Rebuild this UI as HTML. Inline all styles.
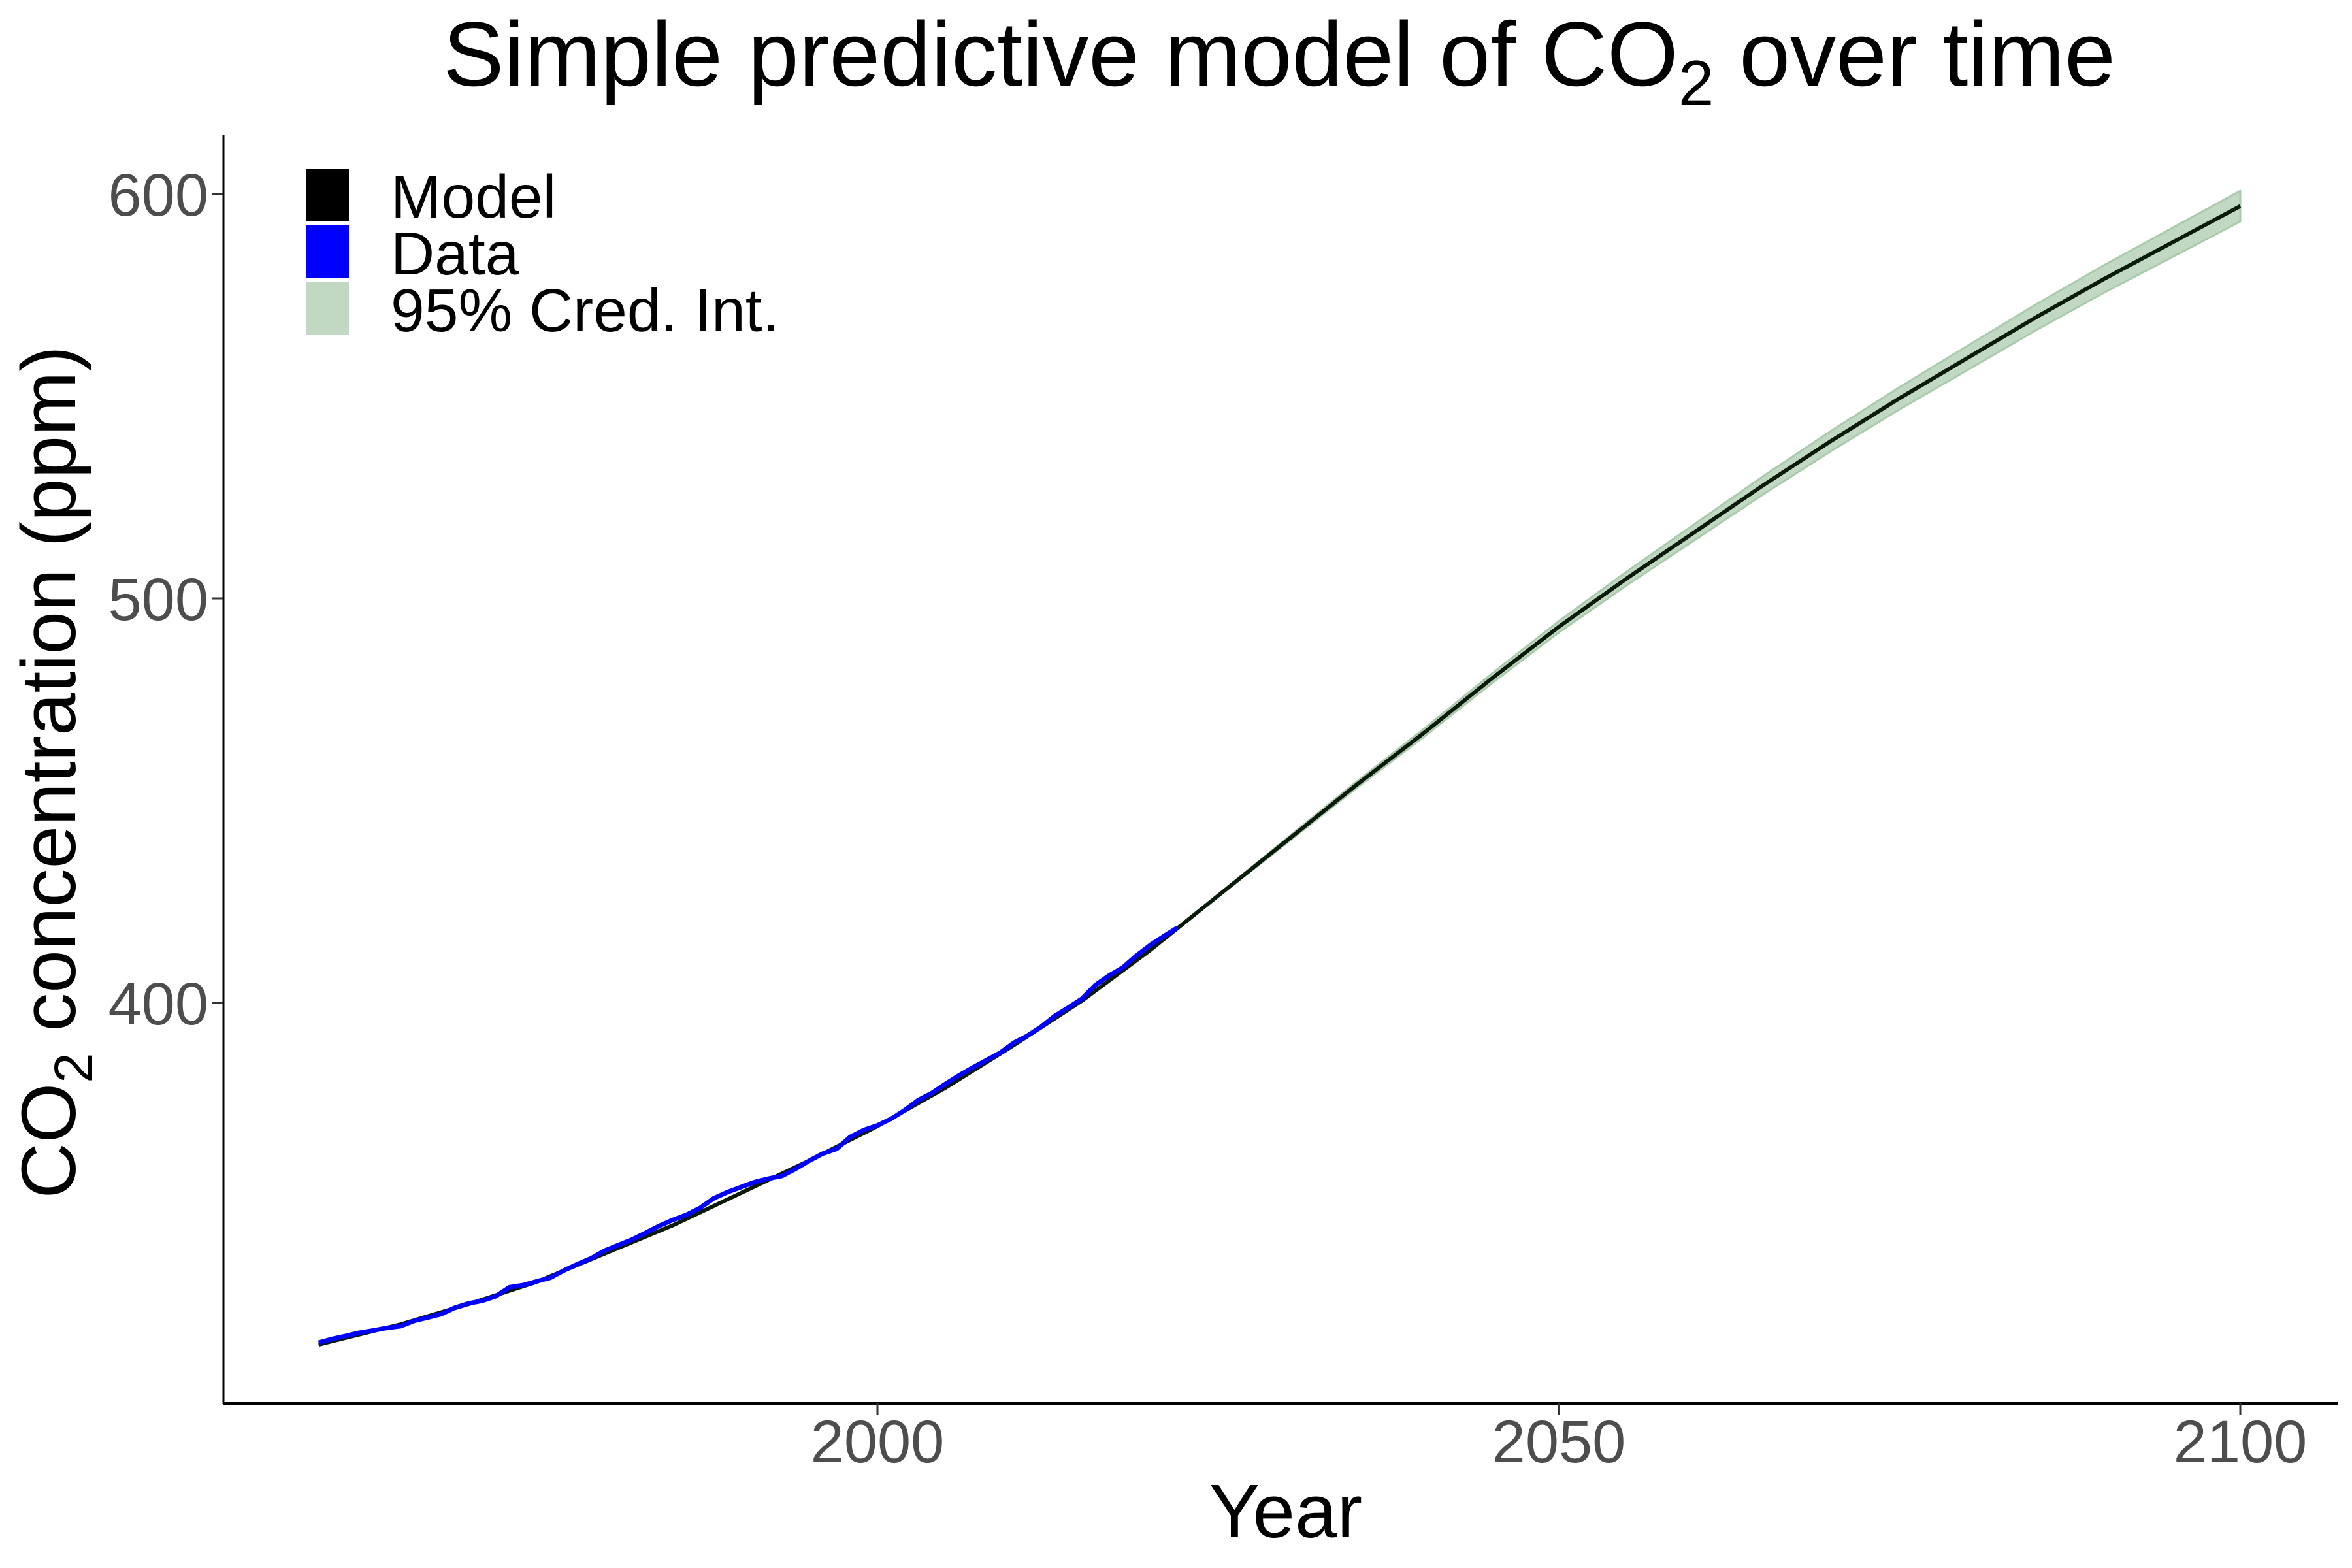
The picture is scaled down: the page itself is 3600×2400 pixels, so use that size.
<!DOCTYPE html>
<html><head><meta charset="utf-8"><style>
html,body{margin:0;padding:0;background:#fff;}
svg{display:block;font-family:"Liberation Sans",Arial,sans-serif;}
</style></head><body>
<svg id="chart" width="3600" height="2400" viewBox="0 0 3600 2400" xmlns="http://www.w3.org/2000/svg">
<text x="1958" y="131" font-size="140" text-anchor="middle" fill="#000">Simple predictive model of CO<tspan font-size="98" dy="30">2</tspan><tspan dy="-30"> over time</tspan></text>
<text transform="translate(115,1182) rotate(-90)" font-size="118" text-anchor="middle" fill="#000">CO<tspan font-size="83" dy="26">2</tspan><tspan dy="-26"> concentration (ppm)</tspan></text>
<text x="1968" y="2353" font-size="116" text-anchor="middle" fill="#000">Year</text>
<g id="plot"></g>
<line x1="342" y1="206" x2="342" y2="2149" stroke="#000" stroke-width="3"/>
<line x1="341" y1="2148" x2="3578" y2="2148" stroke="#000" stroke-width="4"/>
<g id="ticks"></g>
<g>
<rect x="468" y="258" width="66" height="81" fill="#000"/>
<rect x="468" y="345" width="66" height="81" fill="#0000ff"/>
<rect x="468" y="432" width="66" height="81" fill="#c1d9c3"/>
<text x="598" y="333" font-size="93" fill="#000">Model</text>
<text x="598" y="420" font-size="93" fill="#000">Data</text>
<text x="598" y="507" font-size="93" fill="#000">95% Cred. Int.</text>
</g>
</svg>
<script>
const modelYears=[1959,1965,1970,1975,1980,1985,1990,1995,2000,2005,2010,2015,2020,2025,2030,2035,2040,2045,2050,2055,2060,2065,2070,2075,2080,2085,2090,2095,2100];
const modelValues=[315.5,320.5,325.5,331,338,345,353,361,369.5,379,389.5,400.5,413,426.5,440,453.5,466.5,480,493,505,516.5,528,539,549.5,559.5,569.5,579,588,597];
const ribbonHalf=[0,0,0,0,0,0,0,0,0,0,0,0,0,0.3,0.6,0.8,1.0,1.2,1.4,1.7,2.0,2.25,2.5,2.75,3.0,3.2,3.4,3.6,3.8];
const dataYears=[];for(let y=1959;y<=2022;y++)dataYears.push(y);
const dataValues=[315.98,316.91,317.64,318.45,318.99,319.62,320.04,321.37,322.18,323.05,324.62,325.68,326.32,327.46,329.68,330.19,331.13,332.03,333.84,335.41,336.84,338.76,340.12,341.48,343.15,344.87,346.35,347.61,349.31,351.69,353.2,354.45,355.7,356.54,357.21,358.96,360.97,362.74,363.88,366.84,368.54,369.71,371.32,373.45,375.98,377.7,379.98,382.09,384.02,385.83,387.64,390.1,391.85,394.06,396.74,398.81,401.01,404.41,406.76,408.72,411.66,414.24,416.45,418.56];
const xTicks=[2000,2050,2100];
const yTicks=[400,500,600];
const NS="http://www.w3.org/2000/svg";
const xs=v=>1343+(v-2000)*20.86;
const ys=v=>297+(600-v)*6.19;
const plot=document.getElementById('plot');
const ticks=document.getElementById('ticks');
function mk(tag,attrs,parent){const e=document.createElementNS(NS,tag);for(const k in attrs)e.setAttribute(k,attrs[k]);parent.appendChild(e);return e;}
let up=modelYears.map((y,i)=>xs(y)+','+ys(modelValues[i]+ribbonHalf[i]));
let lo=modelYears.map((y,i)=>xs(y)+','+ys(modelValues[i]-ribbonHalf[i])).reverse();
const rib=mk('polygon',{points:up.concat(lo).join(' '),fill:'#c1d9c3',stroke:'#a9cbab','stroke-width':3,'stroke-linejoin':'round'},plot);


const ml=mk('polyline',{points:modelYears.map((y,i)=>xs(y)+','+ys(modelValues[i])).join(' '),fill:'none',stroke:'#0a1a0a','stroke-width':6,'stroke-linejoin':'round'},plot);


const dl=mk('polyline',{points:dataYears.map((y,i)=>xs(y)+','+ys(dataValues[i])).join(' '),fill:'none',stroke:'#0000ff','stroke-width':7,'stroke-linejoin':'round'},plot);


xTicks.forEach(t=>{
  const l=mk('line',{x1:xs(t),x2:xs(t),y1:2148,y2:2166,stroke:'#333','stroke-width':3},ticks);
  
  
  const tx=mk('text',{x:xs(t),y:2238,'font-size':92,'text-anchor':'middle',fill:'#4d4d4d'},ticks);
  tx.textContent=t;
  
  
});
yTicks.forEach(t=>{
  const l=mk('line',{x1:324,x2:342,y1:ys(t),y2:ys(t),stroke:'#333','stroke-width':3},ticks);
  
  
  const tx=mk('text',{x:319,y:ys(t)+33,'font-size':92,'text-anchor':'end',fill:'#4d4d4d'},ticks);
  tx.textContent=t;
  
  
});
</script>
</body></html>
